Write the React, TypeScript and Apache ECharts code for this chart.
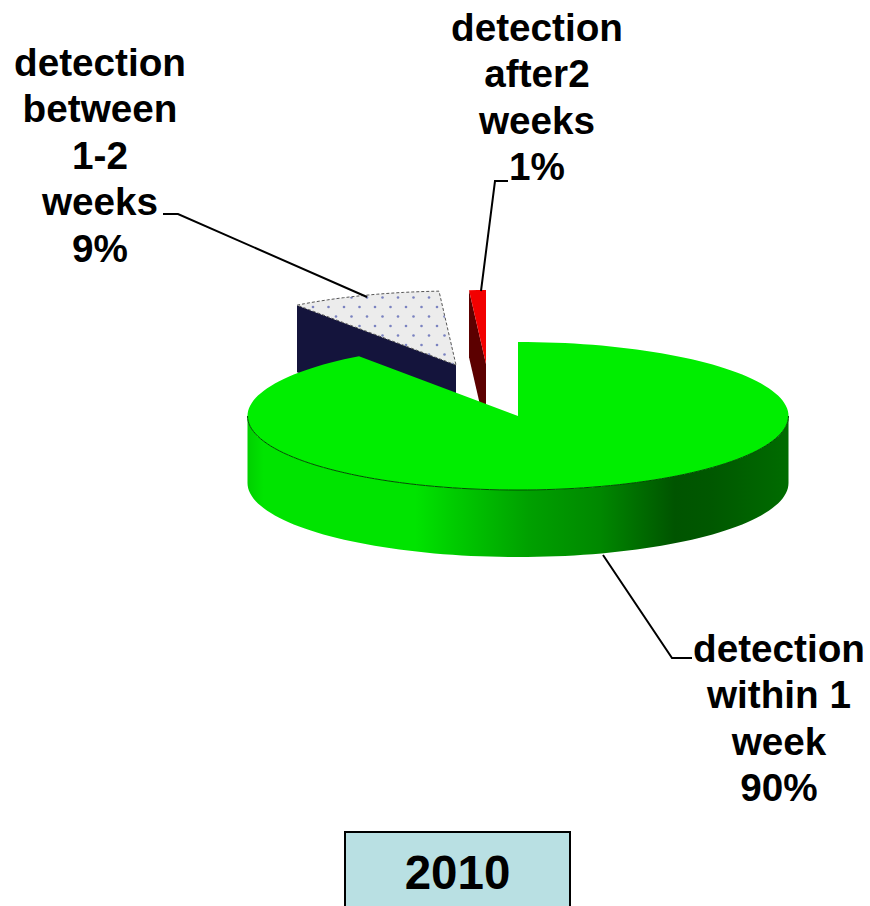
import React, { useEffect, useRef } from "react";
import * as echarts from "echarts";

const categories = ["detection within 1 week", "detection between 1-2 weeks", "detection after2 weeks"];
const labelLines = [
  ["detection", "within 1", "week"],
  ["detection", "between", "1-2", "weeks"],
  ["detection", "after2", "weeks"],
];
const shares = [90, 9, 1];
const yearLabel = "2010";

const CX = 518, CY = 416, RX = 270.5, RY = 74, DEPTH = 67;
const FONT = 'bold 38.7px "Liberation Sans", Arial, sans-serif';
const layout = [
  { dx: 0, dy: 0, z: 30, top: "#00ee00", wall: null, labelX: 779, labelY: 625, leader: [[603, 555], [672, 658], [692, 658]] },
  { dx: -62, dy: -51, z: 10, top: "#ececec", wall: "#14143c", labelX: 100, labelY: 39, leader: [[163, 214], [178, 214], [367, 297]] },
  { dx: -32, dy: -52, z: 20, top: "#f20000", wall: "#5c0000", labelX: 537, labelY: 4, leader: [[508, 181], [495, 181], [481, 291]] },
];

function makeDots() {
  const c = document.createElement("canvas");
  c.width = 31;
  c.height = 19;
  const g = c.getContext("2d")!;
  g.fillStyle = "#ececec";
  g.fillRect(0, 0, 31, 19);
  g.fillStyle = "#7a82c0";
  [[3, 3], [18.5, 3], [10.5, 12.5], [26, 12.5]].forEach(([x, y]) => {
    g.beginPath();
    g.arc(x, y, 1.3, 0, Math.PI * 2);
    g.fill();
  });
  return c;
}

function on(deg: number, ox: number, oy: number) {
  const a = (deg * Math.PI) / 180;
  return [ox + Math.sin(a) * RX, oy - Math.cos(a) * RY];
}
function arc(from: number, to: number, ox: number, oy: number) {
  const n = Math.max(2, Math.ceil(Math.abs(to - from) / 2));
  const pts: number[][] = [];
  for (let i = 0; i <= n; i++) pts.push(on(from + ((to - from) * i) / n, ox, oy));
  return pts;
}

export default function App() {
  const ref = useRef<HTMLDivElement>(null);
  useEffect(() => {
    const chart = echarts.init(ref.current!, null, { renderer: "svg" });
    const dots = makeDots();
    const total = shares.reduce((a, b) => a + b, 0);
    const renderItem = (params: any, api: any) => {
      const i = params.dataIndex;
      const share = api.value(0);
      const before = shares.slice(0, i).reduce((a, b) => a + b, 0);
      const start = (before / total) * 360;
      const end = start + (share / total) * 360;
      const L = layout[i];
      const ox = CX + L.dx, oy = CY + L.dy;
      const children: any[] = [];
      const topPts = [[ox, oy], ...arc(start, end, ox, oy)];
      if (i === 0) {
        const front = arc(90, 270, ox, oy);
        const lower = front.map(([x, y]) => [x, y + DEPTH]).reverse();
        children.push({
          type: "polygon", z2: L.z,
          shape: { points: [...front, ...lower] },
          style: {
            fill: new echarts.graphic.LinearGradient(0, 0, 1, 0, [
              { offset: 0, color: "#00d000" },
              { offset: 0.03, color: "#00e400" },
              { offset: 0.31, color: "#00e400" },
              { offset: 0.38, color: "#00cc00" },
              { offset: 0.52, color: "#00a000" },
              { offset: 0.65, color: "#008800" },
              { offset: 0.79, color: "#005400" },
              { offset: 0.86, color: "#005800" },
              { offset: 1, color: "#006c00" },
            ]),
          },
        });
        children.push({
          type: "polyline", z2: L.z + 2,
          shape: { points: front },
          style: { stroke: "#004d00", lineWidth: 1, fill: "none" },
        });
      } else {
        const a = on(start, ox, oy);
        children.push({
          type: "polygon", z2: L.z,
          shape: { points: [a, [ox, oy], [ox, oy + DEPTH], [a[0], a[1] + DEPTH]] },
          style: { fill: L.wall },
        });
      }
      children.push({
        type: "polygon", z2: L.z + 1,
        shape: { points: topPts },
        style:
          i === 1
            ? { fill: { image: dots, repeat: "repeat", x: 24, y: 14 }, stroke: "#555555", lineWidth: 1, lineDash: [3, 2] }
            : { fill: L.top },
      });
      children.push({
        type: "polyline", z2: 40,
        shape: { points: L.leader },
        style: { stroke: "#000000", lineWidth: 2, fill: "none" },
      });
      children.push({
        type: "text", z2: 41,
        style: {
          text: [...labelLines[i], `${share}%`].join("\n"),
          x: L.labelX, y: L.labelY,
          font: FONT, fill: "#000000",
          align: "center", verticalAlign: "top", lineHeight: 46.5,
        },
      });
      return { type: "group", children };
    };
    chart.setOption({
      animation: false,
      backgroundColor: "#ffffff",
      series: [
        {
          type: "custom",
          coordinateSystem: "none",
          name: "detection",
          clip: false,
          silent: true,
          data: shares.map((v, i) => ({ value: [v], name: categories[i] })),
          renderItem,
        },
      ],
      graphic: [
        {
          type: "rect", z: 50,
          shape: { x: 345, y: 832, width: 225, height: 100 },
          style: { fill: "#b9e0e3", stroke: "#000000", lineWidth: 2 },
        },
        {
          type: "text", z: 51, x: 457.5, y: 872,
          style: {
            text: yearLabel,
            font: 'bold 47.5px "Liberation Sans", Arial, sans-serif',
            fill: "#000000", align: "center", verticalAlign: "middle",
          },
        },
      ],
    });
    return () => chart.dispose();
  }, []);
  return <div ref={ref} style={{ position: "absolute", left: 0, top: 0, width: 870, height: 906 }} />;
}
